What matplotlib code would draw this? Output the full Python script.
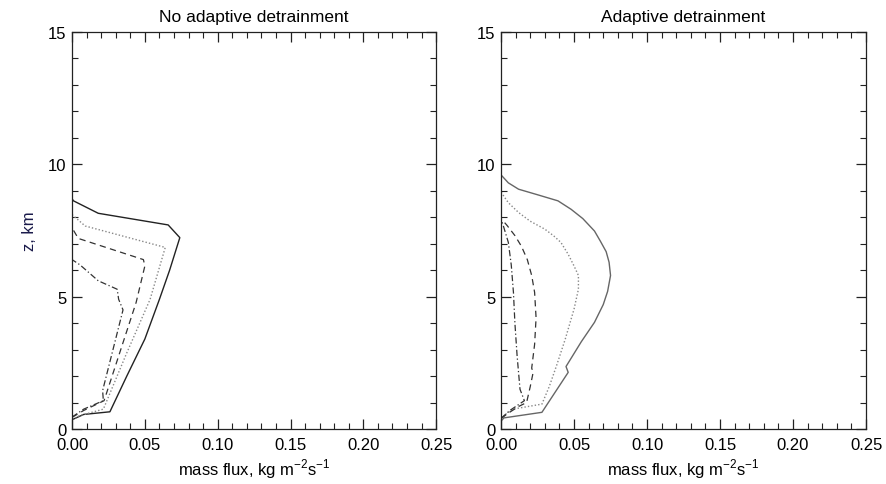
import numpy as np
import matplotlib
matplotlib.use('Agg')
import matplotlib.pyplot as plt
from matplotlib.ticker import MultipleLocator

plt.rcParams['font.family'] = ['Liberation Sans', 'DejaVu Sans']
plt.rcParams['mathtext.fontset'] = 'custom'
plt.rcParams['mathtext.rm'] = 'Liberation Sans'

titles = ['No adaptive detrainment', 'Adaptive detrainment']

# left panel: no adaptive detrainment (mass flux, height km)
noad_solid_x = [0.0, 0.008, 0.026, 0.0376, 0.050, 0.060, 0.067, 0.074, 0.066, 0.018, 0.001, 0.0]
noad_solid_z = [0.35, 0.55, 0.65, 2.0, 3.4, 4.9, 6.0, 7.23, 7.71, 8.15, 8.62, 8.7]
noad_dot_x = [0.0, 0.005, 0.0215, 0.037, 0.0536, 0.064, 0.009, 0.0]
noad_dot_z = [0.35, 0.5, 0.75, 2.8, 4.9, 6.86, 7.67, 8.1]
noad_dash_x = [0.0, 0.008, 0.022, 0.044, 0.050, 0.049, 0.0043, 0.0]
noad_dash_z = [0.44, 0.7, 1.07, 4.78, 6.16, 6.4, 7.2, 7.6]
noad_dd_x = [0.0, 0.008, 0.0215, 0.021, 0.035, 0.032, 0.031, 0.018, 0.0055, 0.0, 0.0]
noad_dd_z = [0.45, 0.75, 1.07, 1.45, 4.5, 4.9, 5.28, 5.6, 6.2, 6.4, 7.05]

# right panel: adaptive detrainment
ad_solid_x = [0.0, 0.002, 0.028, 0.046, 0.0445, 0.055, 0.064, 0.070, 0.073, 0.075, 0.074, 0.072,
              0.068, 0.064, 0.056, 0.048, 0.039, 0.025, 0.012, 0.005, 0.0]
ad_solid_z = [0.3, 0.42, 0.63, 2.14, 2.36, 3.3, 4.03, 4.7, 5.2, 5.8, 6.3, 6.7,
              7.1, 7.48, 7.95, 8.3, 8.62, 8.85, 9.06, 9.3, 9.6]
ad_dot_x = [0.0, 0.003, 0.008, 0.028, 0.033, 0.038, 0.044, 0.050, 0.053, 0.053, 0.050, 0.046,
            0.041, 0.036, 0.030, 0.020, 0.012, 0.005, 0.0]
ad_dot_z = [0.35, 0.55, 0.75, 0.94, 1.6, 2.39, 3.4, 4.53, 5.28, 5.8, 6.16, 6.6,
            7.05, 7.3, 7.55, 7.85, 8.18, 8.55, 8.95]
ad_dash_x = [0.0, 0.005, 0.012, 0.0175, 0.020, 0.022, 0.021, 0.023, 0.024, 0.023, 0.021, 0.018,
             0.014, 0.0096, 0.004, 0.0]
ad_dash_z = [0.4, 0.6, 0.85, 1.0, 1.6, 2.14, 2.3, 3.2, 4.2, 5.16, 5.8, 6.4,
             6.9, 7.3, 7.7, 7.95]
ad_dd_x = [0.0, 0.006, 0.016, 0.013, 0.011, 0.0095, 0.0085, 0.007, 0.005, 0.002, 0.0]
ad_dd_z = [0.4, 0.7, 1.07, 1.5, 2.77, 4.0, 5.16, 6.2, 7.05, 7.6, 7.95]

panels = [
    [(noad_solid_x, noad_solid_z), (noad_dot_x, noad_dot_z), (noad_dash_x, noad_dash_z), (noad_dd_x, noad_dd_z)],
    [(ad_solid_x, ad_solid_z), (ad_dot_x, ad_dot_z), (ad_dash_x, ad_dash_z), (ad_dd_x, ad_dd_z)],
]

fig = plt.figure(figsize=(8.86, 4.85), dpi=100)
ax1 = fig.add_axes([0.0813, 0.1134, 0.411, 0.8186])
ax2 = fig.add_axes([0.5655, 0.1134, 0.412, 0.8186])

solid_colors = ['#222222', '#666666']
for i, ax in enumerate([ax1, ax2]):
    s, d, da, dd = panels[i]
    ax.plot(s[0], s[1], color=solid_colors[i], lw=1.0, ls='-')
    ax.plot(d[0], d[1], color='#888888', lw=1.0, ls=(0, (1, 1.5)))
    ax.plot(da[0], da[1], color='#333333', lw=0.9, ls=(0, (5, 3.5)))
    ax.plot(dd[0], dd[1], color='#333333', lw=0.9, ls=(0, (5, 2, 1, 2)))
    ax.set_xlim(0, 0.25)
    ax.set_ylim(0, 15)
    ax.xaxis.set_major_locator(MultipleLocator(0.05))
    ax.xaxis.set_minor_locator(MultipleLocator(0.01))
    ax.yaxis.set_major_locator(MultipleLocator(5))
    ax.yaxis.set_minor_locator(MultipleLocator(1))
    ax.xaxis.set_major_formatter(plt.FormatStrFormatter('%.2f'))
    ax.tick_params(which='both', direction='in', top=True, right=True, labelsize=12, color='#222222')
    ax.tick_params(which='major', length=7, width=0.9)
    ax.tick_params(which='minor', length=4, width=0.8)
    ax.tick_params(axis='x', pad=6)
    ax.tick_params(axis='y', pad=4)
    for sp in ax.spines.values():
        sp.set_linewidth(0.9)
        sp.set_color('#222222')
    ax.set_title(titles[i], fontsize=12.5, pad=8)
    ax.set_xlabel('mass flux, kg m$^{-2}$s$^{-1}$', fontsize=12, labelpad=3)

ax1.set_ylabel('z, km', fontsize=12, color='#1a1a4a', labelpad=8)

fig.savefig('out.png', dpi=100)
